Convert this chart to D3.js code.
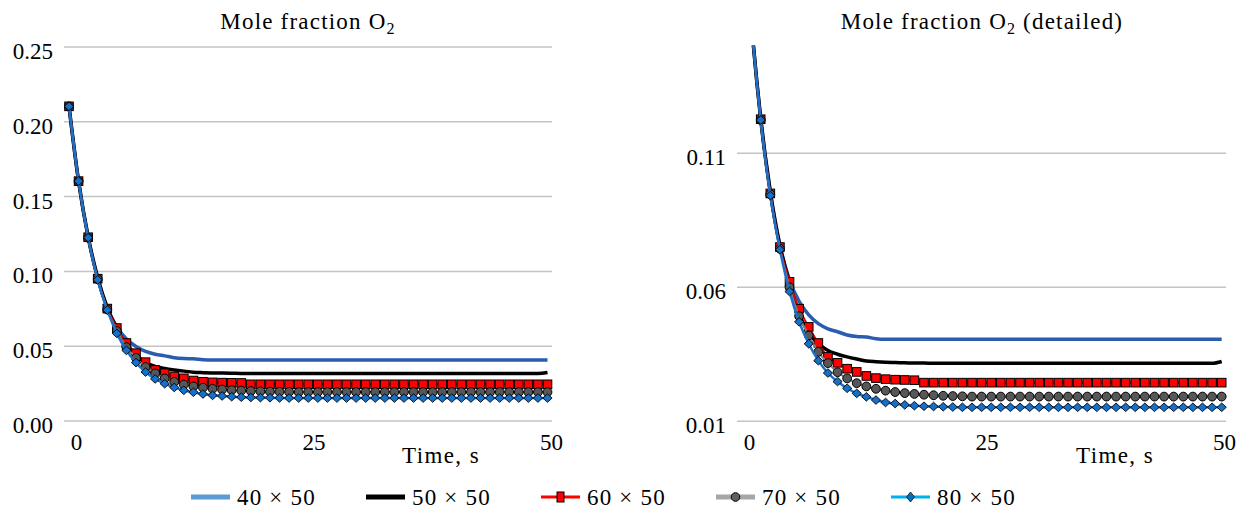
<!DOCTYPE html>
<html><head><meta charset="utf-8">
<script src="https://cdn.jsdelivr.net/npm/d3@7"></script>
<style>
body{margin:0;background:#fff}
svg{display:block}
text{font-family:"Liberation Serif","Times New Roman",serif;fill:#000}
</style>
</head><body>
<svg id="chart" width="1249" height="516"></svg>
<script>
// ---------------- data ----------------
const times = [0,1,2,3,4,5,6,7,8,9,10,11,12,13,14,15,16,17,18,19,20,21,22,23,24,25,26,27,28,29,30,31,32,33,34,35,36,37,38,39,40,41,42,43,44,45,46,47,48,49,50];

const o2_40x50 = [0.21,0.16,0.123,0.0955,0.0755,0.0625,0.0545,0.0495,0.0462,0.0443,0.0432,0.042,0.0414,0.0412,0.0406,0.0404,0.0404,0.0404,0.0404,0.0404,
  0.0404,0.0404,0.0404,0.0404,0.0404,0.0404,0.0404,0.0404,0.0404,0.0404,0.0404,0.0404,0.0404,0.0404,0.0404,0.0404,0.0404,0.0404,0.0404,0.0404,
  0.0404,0.0404,0.0404,0.0404,0.0404,0.0404,0.0404,0.0404,0.0404,0.0404,0.0404];

const o2_50x50 = [0.21,0.16,0.1225,0.0952,0.0752,0.0615,0.0498,0.0428,0.0388,0.0362,0.0348,0.0338,0.033,0.0323,0.032,0.0318,0.0317,0.0316,0.0315,0.0315,
  0.0314,0.0314,0.0314,0.0314,0.0314,0.0314,0.0314,0.0314,0.0314,0.0314,0.0314,0.0314,0.0314,0.0314,0.0314,0.0314,0.0314,0.0314,0.0314,0.0314,
  0.0314,0.0314,0.0314,0.0314,0.0314,0.0314,0.0314,0.0314,0.0314,0.0314,0.0321];

const o2_60x50 = [0.21,0.16,0.1225,0.0948,0.0748,0.0618,0.0518,0.045,0.039,0.0338,0.0316,0.0294,0.0282,0.0267,0.0259,0.0255,0.0253,0.0252,0.0251,0.0242,
  0.0242,0.0242,0.0242,0.0242,0.0242,0.0242,0.0242,0.0242,0.0242,0.0242,0.0242,0.0242,0.0242,0.0242,0.0242,0.0242,0.0242,0.0242,0.0242,0.0242,
  0.0242,0.0242,0.0242,0.0242,0.0242,0.0242,0.0242,0.0242,0.0242,0.0242,0.0242];

const o2_70x50 = [0.21,0.16,0.1222,0.0945,0.0742,0.0598,0.049,0.0418,0.0357,0.0315,0.0281,0.0258,0.024,0.0228,0.0219,0.0212,0.0207,0.0203,0.02,0.0197,
  0.0195,0.0193,0.0192,0.0191,0.019,0.019,0.019,0.019,0.019,0.019,0.019,0.019,0.019,0.019,0.019,0.019,0.019,0.019,0.019,0.019,
  0.019,0.019,0.019,0.019,0.019,0.019,0.019,0.019,0.019,0.019,0.019];

const o2_80x50 = [0.21,0.16,0.1222,0.094,0.0738,0.0582,0.0469,0.0387,0.0324,0.0278,0.0246,0.0221,0.0202,0.0189,0.0177,0.0168,0.0164,0.0159,0.0156,0.0154,
  0.0153,0.0152,0.0151,0.015,0.015,0.015,0.015,0.015,0.015,0.015,0.015,0.015,0.015,0.015,0.015,0.015,0.015,0.015,0.015,0.015,
  0.015,0.015,0.015,0.015,0.015,0.015,0.015,0.015,0.015,0.015,0.015];

const seriesNames = ["40 × 50","50 × 50","60 × 50","70 × 50","80 × 50"];
const leftYTicks = [0.00,0.05,0.10,0.15,0.20,0.25];
const rightYTicks = [0.01,0.06,0.11];
const xTickValues = [0,25,50];
const xAxisTitle = "Time, s";
const leftTitle = ["Mole fraction O","2",""];
const rightTitle = ["Mole fraction O","2"," (detailed)"];

// ---------------- styles ----------------
const seriesStyle = [
  {line:"#2a5db0", width:3.5, marker:null,      legLine:"#5b9bd5", legWidth:5},
  {line:"#000000", width:3.5, marker:null,      legLine:"#000000", legWidth:5},
  {line:"#e00000", width:2,   marker:"square",  fill:"#ff0000", legLine:"#ff0000", legWidth:3},
  {line:"#808080", width:2,   marker:"circle",  fill:"#575757", legLine:"#a6a6a6", legWidth:5},
  {line:"#1e6fc8", width:2.5, marker:"diamond", fill:"#1670c8", legLine:"#00b0f0", legWidth:3, legFill:"#0070c0"}
];
const allSeries = [o2_40x50,o2_50x50,o2_60x50,o2_70x50,o2_80x50];

const svg = d3.select("#chart");
const FONT = 23;

const panels = [
  {id:"L", xRange:[69,547.5], xTickRange:[76,551], yDomain:[0,0.25], yRange:[420.5,46.5], grid:[64,552],
   yTicks:leftYTicks, title:leftTitle, titleX:308, axisTitleX:441},
  {id:"R", xRange:[741.5,1221.7], xTickRange:[749,1224], yDomain:[0.01,0.15], yRange:[420.7,45.5], grid:[737,1226],
   yTicks:rightYTicks, title:rightTitle, titleX:982, axisTitleX:1115}
];

function markerPath(type){
  if(type==="diamond") return "M0,-4.3L4.6,0L0,4.3L-4.6,0Z";
  return null;
}

panels.forEach(p=>{
  const x = d3.scaleLinear().domain([0,50]).range(p.xRange);
  const xt = d3.scaleLinear().domain([0,50]).range(p.xTickRange);
  const y = d3.scaleLinear().domain(p.yDomain).range(p.yRange);

  // y grid + labels
  const gy = svg.append("g").attr("transform",`translate(${p.grid[0]},0)`)
    .call(d3.axisLeft(y).tickValues(p.yTicks).tickFormat(d3.format(".2f"))
      .tickSize(-(p.grid[1]-p.grid[0])).tickPadding(11));
  gy.select(".domain").remove();
  gy.selectAll(".tick line").attr("stroke","#c4c4c4").attr("stroke-width",1.5);
  gy.selectAll(".tick text").attr("font-size",FONT).attr("dy",null).attr("y",12)
    .attr("font-family",'"Liberation Serif",serif');

  // x labels
  const gx = svg.append("g").attr("transform","translate(0,450)")
    .call(d3.axisBottom(xt).tickValues(xTickValues).tickSize(0).tickPadding(0));
  gx.select(".domain").remove();
  gx.selectAll(".tick text").attr("font-size",FONT).attr("dy",null).attr("y",0)
    .attr("font-family",'"Liberation Serif",serif');

  // axis title
  svg.append("text").attr("x",p.axisTitleX).attr("y",463).attr("text-anchor","middle")
    .attr("font-size",FONT).attr("letter-spacing",1.4).text(xAxisTitle);

  // chart title
  const t = svg.append("text").attr("x",p.titleX).attr("y",29).attr("text-anchor","middle")
    .attr("font-size",FONT).attr("letter-spacing",1.2);
  t.append("tspan").text(p.title[0]);
  t.append("tspan").attr("font-size",16).attr("dy",5).text(p.title[1]);
  if(p.title[2]) t.append("tspan").attr("dy",-5).text(p.title[2]);

  // clip
  const clipId = "clip"+p.id;
  svg.append("clipPath").attr("id",clipId).append("rect")
    .attr("x",p.grid[0]-10).attr("y",p.yRange[1]).attr("width",p.grid[1]-p.grid[0]+20)
    .attr("height",p.yRange[0]-p.yRange[1]+15);
  const plot = svg.append("g").attr("clip-path",`url(#${clipId})`);

  allSeries.forEach((vals,si)=>{
    const st = seriesStyle[si];
    const data = times.map((tt,i)=>({t:tt,v:vals[i]}));
    const line = d3.line().x(d=>x(d.t)).y(d=>y(d.v)).curve(d3.curveMonotoneX);
    plot.append("path").datum(data).attr("d",line).attr("fill","none")
      .attr("stroke",st.line).attr("stroke-width",st.width).attr("stroke-linejoin","round");
    if(st.marker==="square"){
      plot.selectAll(null).data(data).enter().append("rect")
        .attr("x",d=>x(d.t)-4.3).attr("y",d=>y(d.v)-4.3).attr("width",8.6).attr("height",8.6)
        .attr("fill",st.fill).attr("stroke","#000").attr("stroke-width",1);
    } else if(st.marker==="circle"){
      plot.selectAll(null).data(data).enter().append("circle")
        .attr("cx",d=>x(d.t)).attr("cy",d=>y(d.v)).attr("r",4.4)
        .attr("fill",st.fill).attr("stroke","#000").attr("stroke-width",1);
    } else if(st.marker==="diamond"){
      plot.selectAll(null).data(data).enter().append("path")
        .attr("transform",d=>`translate(${x(d.t)},${y(d.v)})`).attr("d",markerPath("diamond"))
        .attr("fill",st.fill).attr("stroke","#000").attr("stroke-width",0.9);
    }
  });
});

// ---------------- legend ----------------
const legX = d3.scalePoint().domain(seriesNames).range([191,891]);
seriesNames.forEach((name,i)=>{
  const st = seriesStyle[i];
  const x0 = legX(name);
  const g = svg.append("g");
  g.append("line").attr("x1",x0).attr("x2",x0+39).attr("y1",497).attr("y2",497)
    .attr("stroke",st.legLine).attr("stroke-width",st.legWidth);
  const cx = x0+19.5;
  if(st.marker==="square"){
    g.append("rect").attr("x",cx-3.5).attr("y",492).attr("width",7).attr("height",10)
      .attr("fill",st.fill).attr("stroke","#000").attr("stroke-width",1);
  } else if(st.marker==="circle"){
    g.append("circle").attr("cx",cx).attr("cy",497).attr("r",4.3)
      .attr("fill","#606060").attr("stroke","#000").attr("stroke-width",1);
  } else if(st.marker==="diamond"){
    g.append("path").attr("transform",`translate(${cx},497)`).attr("d","M0,-5L4,0L0,5L-4,0Z")
      .attr("fill",st.legFill).attr("stroke","#222").attr("stroke-width",0.9);
  }
  g.append("text").attr("x",x0+46).attr("y",505).attr("font-size",FONT).attr("letter-spacing",1.2).text(name);
});
</script>
</body></html>
